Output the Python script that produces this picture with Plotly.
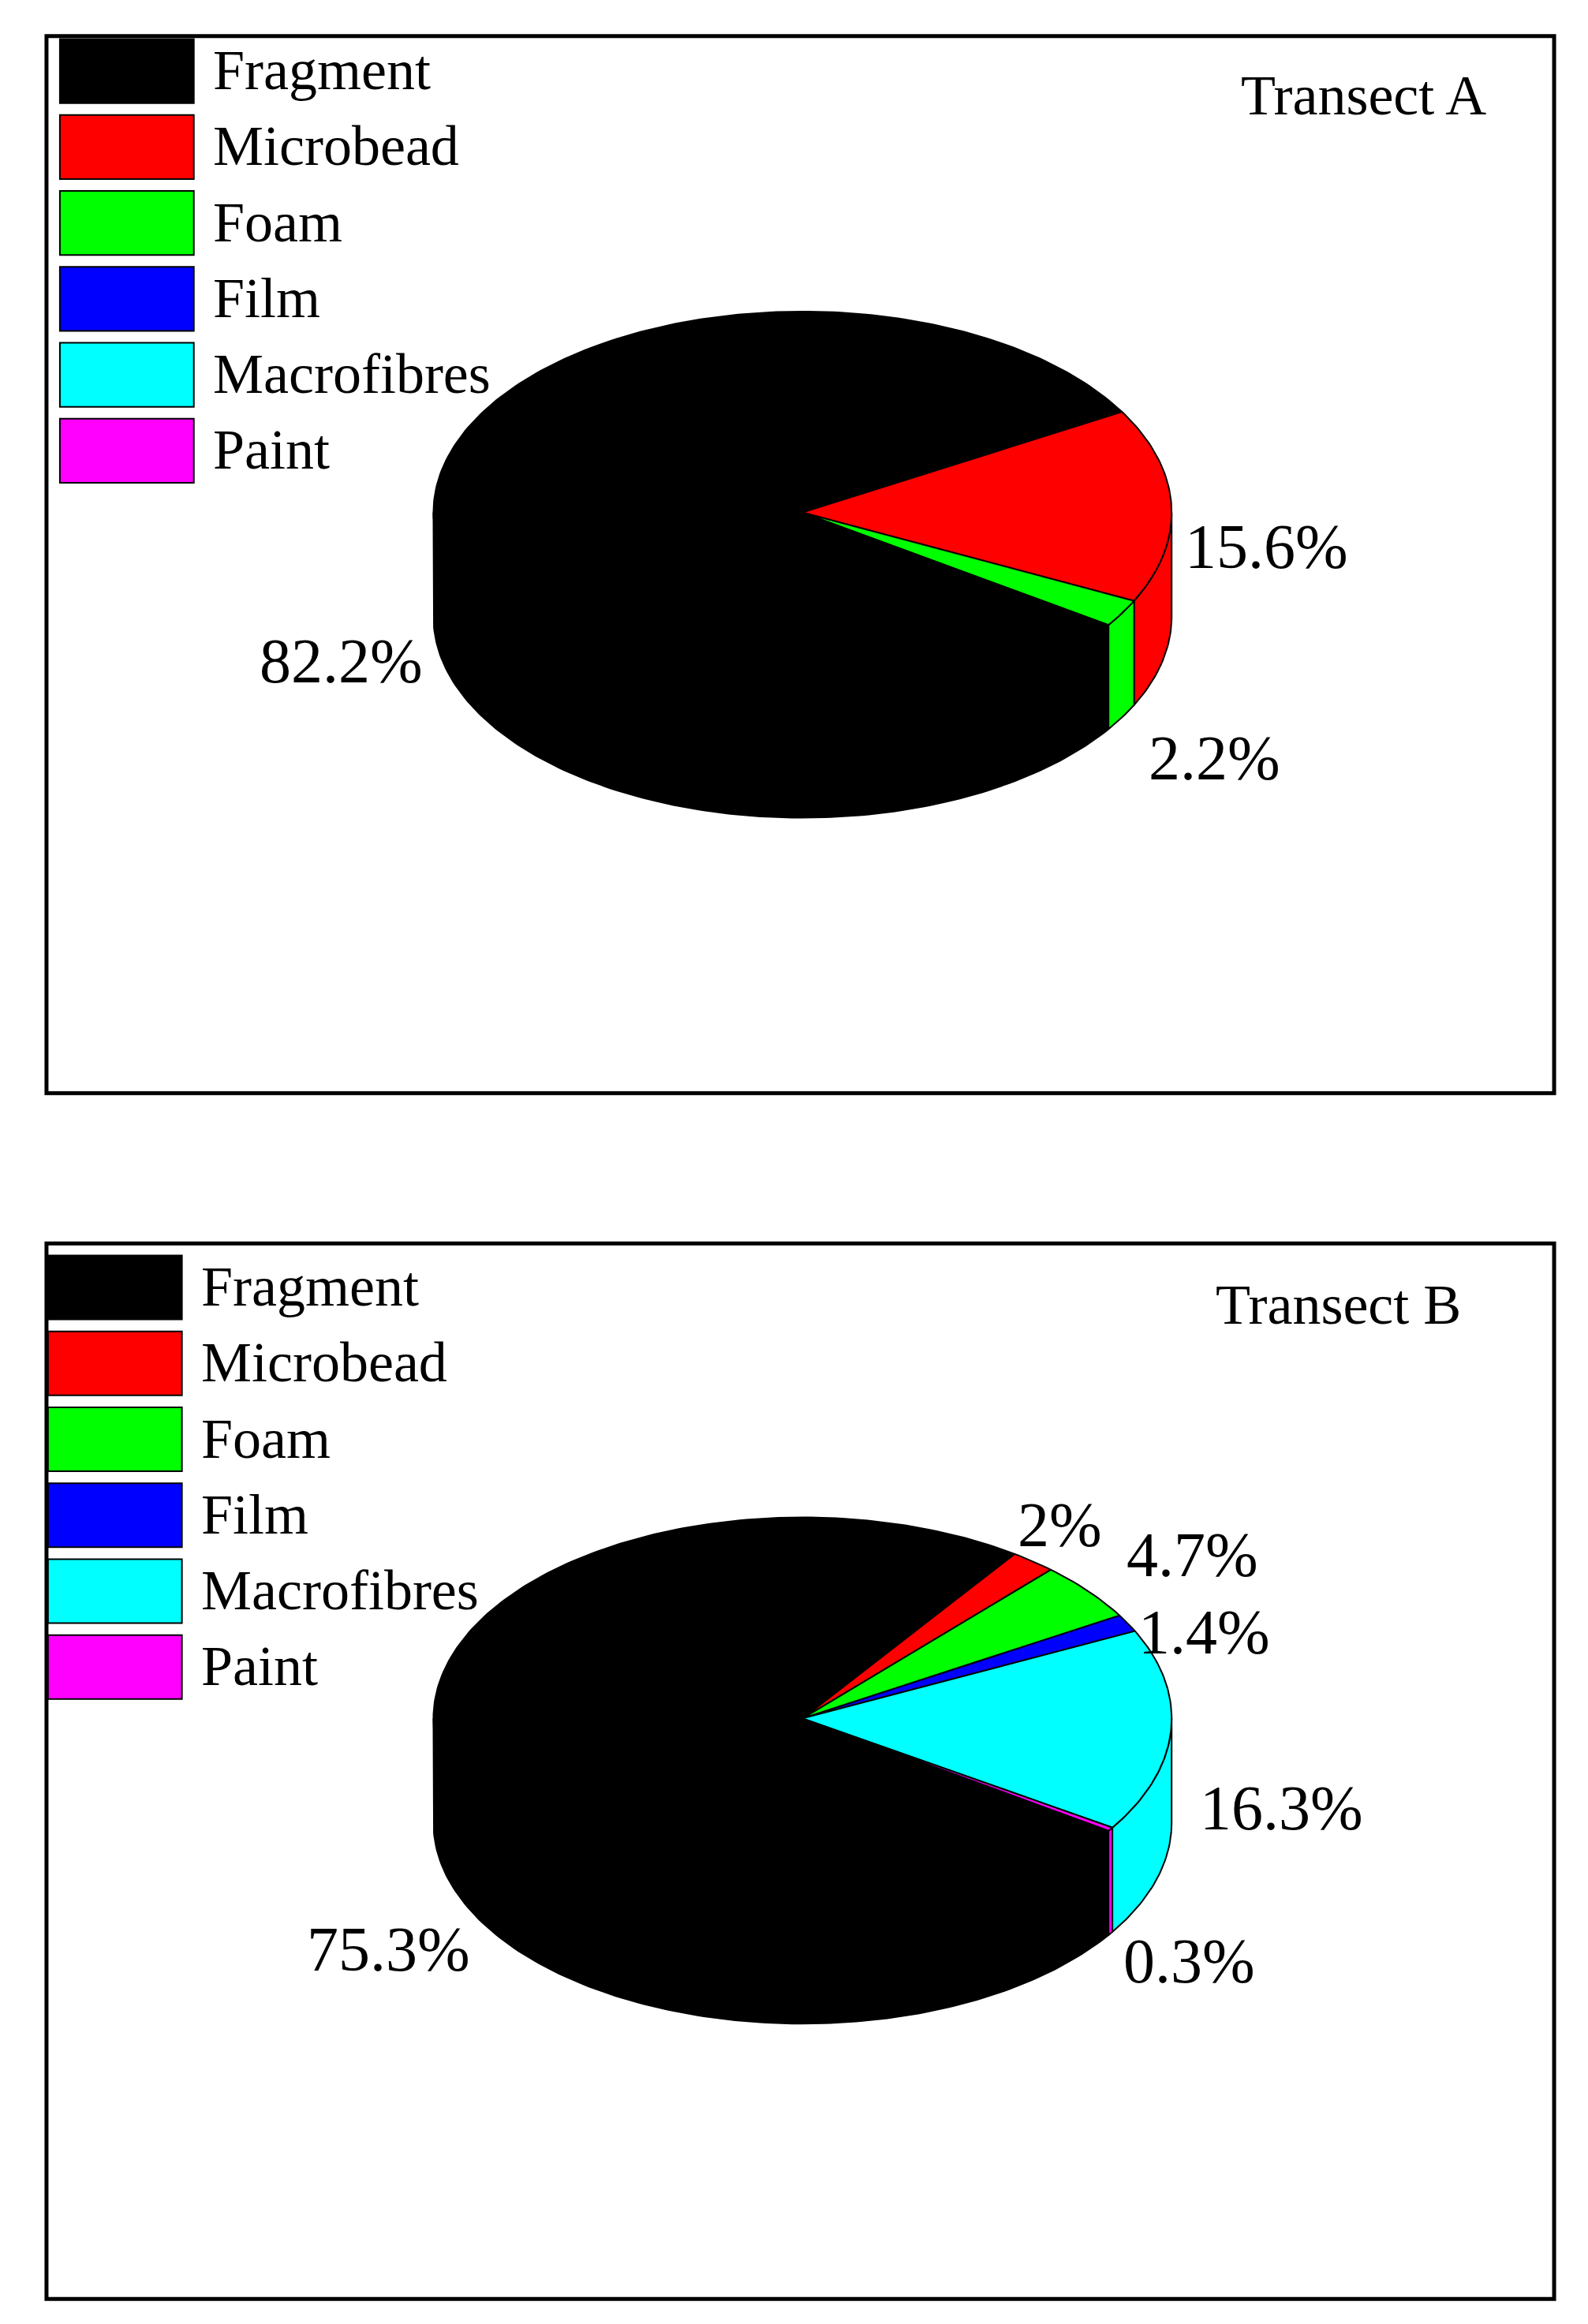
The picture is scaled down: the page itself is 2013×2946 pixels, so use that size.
import numpy as np
import plotly.graph_objects as go

categories = ["Fragment", "Microbead", "Foam", "Film", "Macrofibres", "Paint"]
colors = ["#000000", "#ff0000", "#00ff00", "#0000ff", "#00ffff", "#ff00ff"]
values_a = [82.2, 15.6, 2.2, 0.0, 0.0, 0.0]
values_b = [75.3, 2.0, 4.7, 1.4, 16.3, 0.3]
labels_a = ["82.2%", "15.6%", "2.2%"]
labels_b = ["75.3%", "2%", "4.7%", "1.4%", "16.3%", "0.3%"]

W, H = 1067, 1561
FONT = "Liberation Serif"
fig = go.Figure()

def arc(cx, cy, rx, ry, a1, a2, n=None):
    n = n or max(4, int(abs(a2 - a1)) + 2)
    t = np.radians(np.linspace(a1, a2, n))
    return cx + rx * np.cos(t), cy - ry * np.sin(t)

def pie3d(values, cx, cy, rx=248, ry=135, depth=70, start=-34):
    tot = sum(values)
    spans = []
    a = start
    for v, c in zip(values, colors):
        if v <= 0:
            continue
        d = v / tot * 360
        spans.append((a - d, a, c))
        a -= d
    # sides
    for lo, hi, c in spans:
        for k in range(-2, 2):
            f0, f1 = -180 + 360 * k, 360 * k
            l, h = max(lo, f0), min(hi, f1)
            if h > l:
                xt, yt = arc(cx, cy, rx, ry, h, l)
                xb, yb = arc(cx, cy + depth, rx, ry, l, h)
                fig.add_trace(go.Scatter(x=np.r_[xt, xb, xt[:1]], y=np.r_[yt, yb, yt[:1]],
                                         mode="lines", fill="toself", fillcolor=c,
                                         line=dict(color="black", width=2), hoverinfo="skip"))
    # tops
    for lo, hi, c in spans:
        xa, ya = arc(cx, cy, rx, ry, hi, lo)
        fig.add_trace(go.Scatter(x=np.r_[cx, xa, cx], y=np.r_[cy, ya, cy], mode="lines",
                                 fill="toself", fillcolor=c,
                                 line=dict(color="black", width=2), hoverinfo="skip"))

def panel(y0, y1, leg_x, leg_y, title, title_xy):
    fig.add_shape(type="rect", x0=27, x1=1040, y0=y0, y1=y1,
                  line=dict(color="black", width=5))
    for i, (cat, c) in enumerate(zip(categories, colors)):
        ty = leg_y + i * 51
        fig.add_shape(type="rect", x0=leg_x, x1=leg_x + 90, y0=ty, y1=ty + 43,
                      line=dict(color="black", width=2), fillcolor=c)
        fig.add_annotation(x=leg_x + 102, y=ty + 21, text=cat, showarrow=False,
                           xanchor="left", font=dict(family=FONT, size=72, color="black"))
    fig.add_annotation(x=title_xy[0], y=title_xy[1], text=title, showarrow=False,
                       font=dict(family=FONT, size=72, color="black"))

panel(20, 730, 36, 22, "Transect A", (912, 60))
panel(831, 1540, 28, 839, "Transect B", (895, 872))
pie3d(values_a, 535, 340)
pie3d(values_b, 535, 1150)

for t, (x, y) in zip(labels_a, [(225, 440), (847, 363), (812, 505)]):
    fig.add_annotation(x=x, y=y, text=t, showarrow=False, font=dict(family=FONT, size=80, color="black"))
for t, (x, y) in zip(labels_b, [(257, 1305), (708, 1020), (797, 1040), (805, 1092), (857, 1210), (795, 1313)]):
    fig.add_annotation(x=x, y=y, text=t, showarrow=False, font=dict(family=FONT, size=80, color="black"))

fig.update_xaxes(range=[0, W], visible=False)
fig.update_yaxes(range=[H, 0], visible=False)
fig.update_layout(width=2013, height=2946, margin=dict(l=0, r=0, t=0, b=0),
                  showlegend=False, plot_bgcolor="white", paper_bgcolor="white")
fig.write_html("out.html")
